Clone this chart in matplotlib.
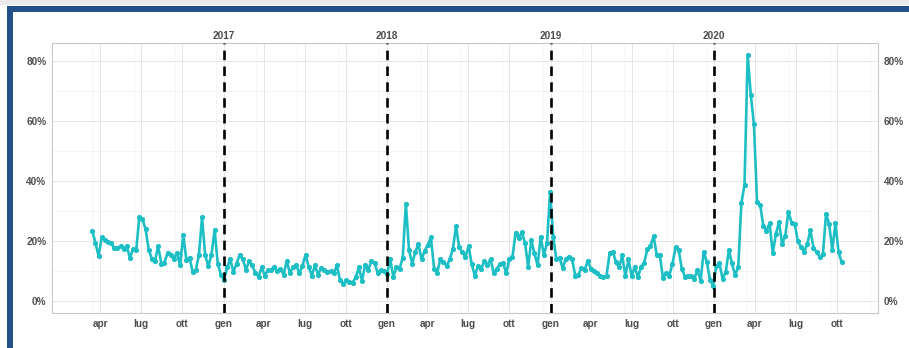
import matplotlib
matplotlib.use("Agg")
import matplotlib.pyplot as plt
import matplotlib.transforms as mtransforms
from matplotlib.patches import Rectangle
import pandas as pd

# weekly share (%)
values = [
    23.3, 19.3, 14.9, 21.1, 20.2, 19.7, 19.3, 17.6, 17.6, 18.2,
    17.4, 18.2, 14.2, 17.3, 16.9, 28.0, 27.3, 23.8, 16.9, 14.0,
    13.3, 18.2, 12.4, 12.7, 16.0, 15.1, 14.0, 16.0, 11.8, 22.0,
    13.6, 14.4, 9.6, 10.2, 15.3, 27.8, 15.1, 11.6, 15.3, 23.6,
    12.4, 8.7, 6.9, 11.1, 13.8, 9.6, 12.4, 15.3, 13.8, 10.4,
    13.1, 11.8, 9.3, 8.0, 11.1, 8.4, 10.2, 10.4, 11.1, 9.8,
    10.7, 8.7, 13.3, 9.3, 11.1, 12.0, 9.1, 11.6, 15.3, 11.3,
    8.4, 11.8, 8.7, 10.9, 10.2, 9.6, 9.8, 9.1, 11.8, 6.9, 5.6,
    6.9, 6.4, 6.0, 7.8, 11.1, 6.7, 11.8, 10.4, 13.1, 12.7,
    9.3, 10.2, 10.0, 8.9, 13.8, 8.0, 11.1, 10.7, 14.4, 32.4,
    16.9, 12.4, 16.2, 18.9, 13.8, 16.7, 18.7, 21.1, 10.7, 9.3,
    14.0, 12.9, 11.6, 13.8, 17.3, 24.9, 17.8, 16.2, 14.7, 18.2,
    12.2, 8.4, 11.6, 10.7, 13.1, 11.8, 14.0, 9.1, 10.7, 12.2,
    12.7, 9.1, 14.0, 14.7, 22.7, 20.9, 22.9, 19.3, 11.3, 20.2,
    15.8, 11.8, 21.3, 15.3, 19.1, 36.4, 21.3, 13.8, 14.4, 10.9,
    14.0, 14.7, 14.0, 8.4, 8.7, 10.9, 10.2, 13.3, 10.7,
    9.8, 9.1, 8.4, 7.8, 8.4, 16.0, 16.4, 12.9, 11.1, 15.1,
    8.2, 13.8, 8.2, 11.3, 7.8, 11.3, 12.7, 17.1, 18.2, 21.6,
    15.3, 15.1, 7.6, 9.3, 8.4, 12.2, 17.8, 16.9, 10.7, 8.0,
    8.4, 8.2, 7.3, 10.4, 6.7, 16.4, 12.9, 6.9, 4.9, 11.6,
    12.5, 7.3, 9.5, 16.8, 12.5, 8.6, 11.2, 32.6, 38.6, 82.0,
    68.7, 58.9, 33.0, 31.9, 25.0, 23.3, 25.9, 15.9, 22.1, 26.4,
    18.8, 21.7, 29.7, 26.1, 25.7, 19.9, 17.9, 16.4, 18.8, 23.5,
    17.7, 16.1, 14.6, 15.5, 29.0, 25.5, 17.0, 25.9, 16.1, 12.8,
]
dates = pd.date_range("2016-03-14", periods=len(values), freq="7D")

years = ["2017", "2018", "2019", "2020"]
year_starts = pd.to_datetime([y + "-01-01" for y in years])

month_names = {1: "gen", 4: "apr", 7: "lug", 10: "ott"}
tick_dates = pd.date_range("2016-04-01", "2020-10-01", freq="QS-JAN")
tick_labels = [month_names[d.month] for d in tick_dates]
minor_dates = pd.date_range("2015-11-15", "2021-02-15", freq="3MS") + pd.Timedelta(days=14)

y_ticks = [0, 20, 40, 60, 80]

plt.rcParams["font.family"] = ["Liberation Sans", "DejaVu Sans"]

fig = plt.figure(figsize=(9.09, 3.48), dpi=100)
fig.patch.set_facecolor("white")

# frame around the chart
fig.patches.append(Rectangle((0, 1 - 5 / 348), 1, 5 / 348, transform=fig.transFigure,
                             facecolor="#EBEBEB", edgecolor="none", zorder=0))
fig.patches.append(Rectangle((7 / 909, 0), 6 / 909, 1 - 6 / 348, transform=fig.transFigure,
                             facecolor="#24508A", edgecolor="none", zorder=0))
fig.patches.append(Rectangle((7 / 909, 1 - 12 / 348), 1, 6 / 348, transform=fig.transFigure,
                             facecolor="#24508A", edgecolor="none", zorder=0))

ax = fig.add_axes([52 / 909, 1 - 313 / 348, 826 / 909, 270 / 348])

ax.plot(dates, values, color="#1DBFC5", lw=1.9, marker="o", ms=2.7, zorder=3)

for d in year_starts:
    ax.axvline(d, color="black", lw=1.9, ls=(0, (3.6, 2.4)), zorder=4)

trans = mtransforms.blended_transform_factory(ax.transData, ax.transAxes)
for d, lab in zip(year_starts, years):
    ax.text(d, 1.026, lab, transform=trans, ha="center", va="center",
            fontsize=7.2, fontweight="bold", color="#4D4D4D")

ax.set_xlim(pd.Timestamp("2015-12-27"), pd.Timestamp("2021-01-01"))
ax.set_ylim(-4.1, 86)

ax.set_xticks(tick_dates)
ax.set_xticklabels(tick_labels)
ax.set_xticks(minor_dates, minor=True)
ax.set_yticks(y_ticks)
ax.set_yticklabels([f"{v}%" for v in y_ticks])
ax.set_yticks([10, 30, 50, 70], minor=True)

ax.grid(which="major", color="#E6E6E6", lw=0.7)
ax.grid(which="minor", color="#F2F2F2", lw=0.5)
ax.set_axisbelow(True)

ax.tick_params(axis="both", which="both", length=0)
ax.tick_params(axis="x", pad=4, labelsize=7.2, labelcolor="#4D4D4D")
ax.tick_params(axis="y", pad=4, labelsize=7.2, labelcolor="#4D4D4D",
               labelright=True)
for lab in ax.get_xticklabels() + ax.get_yticklabels():
    lab.set_fontweight("bold")

for s in ax.spines.values():
    s.set_color("#C8C8C8")
    s.set_linewidth(0.8)

fig.savefig("out.png", dpi=100)
